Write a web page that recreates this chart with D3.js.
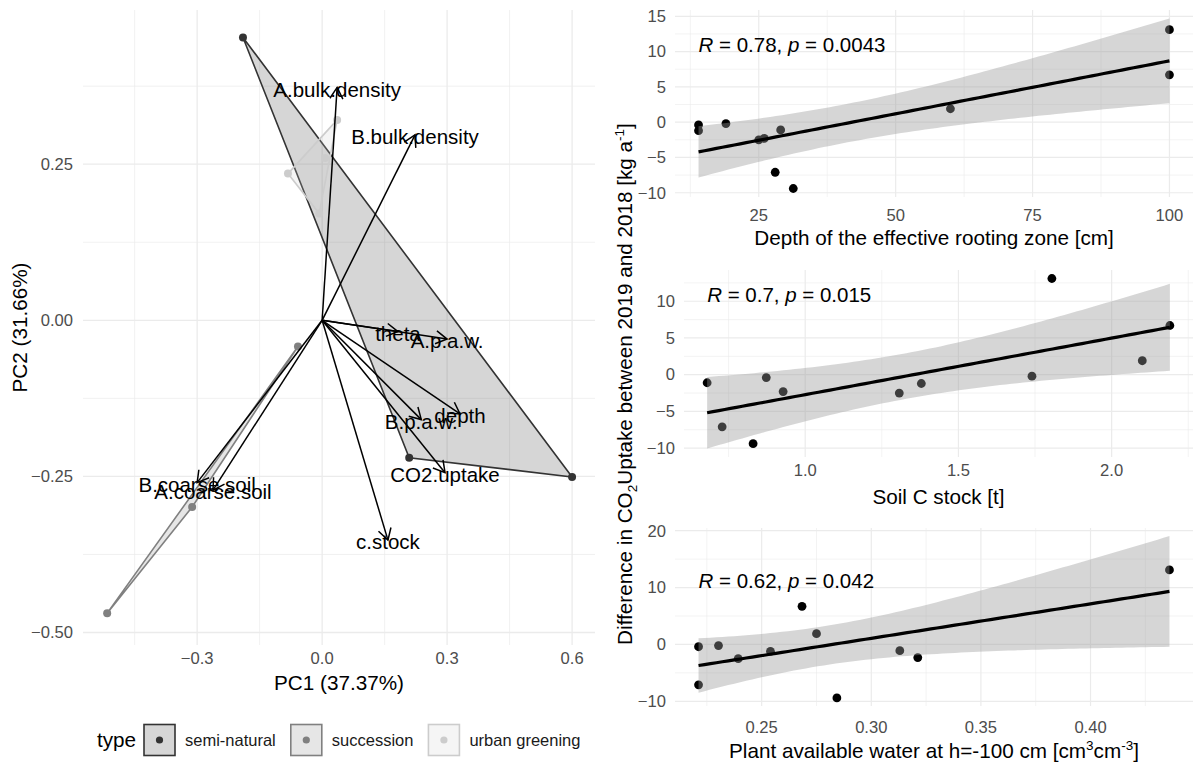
<!DOCTYPE html>
<html>
<head>
<meta charset="utf-8">
<script src="https://cdn.jsdelivr.net/npm/d3@7"></script>
<style>
  html, body { margin: 0; padding: 0; background: #fff; }
  svg { display: block; font-family: "Liberation Sans", Arial, sans-serif; }
</style>
</head>
<body>
<svg id="fig" width="1201" height="764"></svg>
<script>
// ---------- PCA biplot: sample scores ----------
const groups = ["semi-natural", "succession", "urban greening"];
const groupColors = ["#333333", "#808080", "#cccccc"];
const sampleGroup = ["semi-natural", "semi-natural", "semi-natural",
                     "succession", "succession", "succession",
                     "urban greening", "urban greening", "urban greening", "urban greening"];
const samplePC1 = [-0.190, 0.600, 0.209, -0.516, -0.312, -0.058, 0.036, 0.007, -0.082, -0.007];
const samplePC2 = [0.453, -0.251, -0.220, -0.469, -0.299, -0.042, 0.321, 0.260, 0.235, 0.171];

// ---------- PCA biplot: variable loadings ----------
const loadingNames = ["A.bulk.density", "B.bulk.density", "theta", "A.p.a.w.", "depth",
                      "B.p.a.w.", "CO2.uptake", "c.stock", "B.coarse.soil", "A.coarse.soil"];
const loadingPC1 = [0.036, 0.223, 0.182, 0.300, 0.331, 0.238, 0.295, 0.158, -0.300, -0.262];
const loadingPC2 = [0.373, 0.297, -0.018, -0.030, -0.150, -0.159, -0.244, -0.352, -0.260, -0.272];

const pc1Ticks = [-0.3, 0.0, 0.3, 0.6];
const pc2Ticks = [-0.5, -0.25, 0.0, 0.25];

// ---------- regression panels: one value per site ----------
const co2Diff   = [13.1, 6.7, 1.9, -0.2, -0.4, -1.1, -1.2, -2.3, -2.5, -7.1, -9.4];
const rootDepth = [100, 100, 60, 19, 14, 29, 14, 26, 25, 28, 31.3];
const soilC     = [1.805, 2.19, 2.10, 1.74, 0.873, 0.68, 1.379, 0.928, 1.307, 0.729, 0.83];
const pawValues = [0.436, 0.2684, 0.275, 0.2303, 0.2212, 0.313, 0.254, 0.3212, 0.2393, 0.2212, 0.2843];

const corR = ["0.78", "0.7", "0.62"];
const corP = ["0.0043", "0.015", "0.042"];

const depthTicks = [25, 50, 75, 100];
const soilCTicks = [1.0, 1.5, 2.0];
const pawTicks = [0.25, 0.30, 0.35, 0.40];
const diffTicks1 = [-10, -5, 0, 5, 10, 15];
const diffTicks2 = [-10, -5, 0, 5, 10];
const diffTicks3 = [-10, 0, 10, 20];

const svg = d3.select("#fig");
const GRID = "#ebebeb";
const TICK_COL = "#4d4d4d";
const TITLE_SIZE = 20.7, TICK_SIZE = 16.6;

// minor gridline positions: midpoints between majors, extended one step each side
function minorBreaks(ticks, domain) {
  const step = ticks[1] - ticks[0];
  const out = [];
  for (let v = ticks[0] - step / 2; v <= ticks[ticks.length - 1] + step / 2 + 1e-9; v += step) {
    if (v >= Math.min(...domain) && v <= Math.max(...domain)) out.push(v);
  }
  return out;
}

function drawGrid(g, xs, ys, xTicks, yTicks, box, majorW, minorW) {
  const xMinor = minorBreaks(xTicks, xs.domain());
  const yMinor = minorBreaks(yTicks, ys.domain());
  g.selectAll(null).data(xMinor).join("line")
    .attr("x1", d => xs(d)).attr("x2", d => xs(d)).attr("y1", box.top).attr("y2", box.bottom)
    .attr("stroke", GRID).attr("stroke-width", minorW);
  g.selectAll(null).data(yMinor).join("line")
    .attr("y1", d => ys(d)).attr("y2", d => ys(d)).attr("x1", box.left).attr("x2", box.right)
    .attr("stroke", GRID).attr("stroke-width", minorW);
  g.selectAll(null).data(xTicks).join("line")
    .attr("x1", d => xs(d)).attr("x2", d => xs(d)).attr("y1", box.top).attr("y2", box.bottom)
    .attr("stroke", GRID).attr("stroke-width", majorW);
  g.selectAll(null).data(yTicks).join("line")
    .attr("y1", d => ys(d)).attr("y2", d => ys(d)).attr("x1", box.left).attr("x2", box.right)
    .attr("stroke", GRID).attr("stroke-width", majorW);
}

// ================= PCA biplot =================
const bp = { left: 83, right: 595, top: 10, bottom: 645 };
const xPC = d3.scaleLinear().domain([-0.574, 0.655]).range([bp.left, bp.right]);
const yPC = d3.scaleLinear().domain([-0.52, 0.497]).range([bp.bottom, bp.top]);
const gB = svg.append("g");
drawGrid(gB, xPC, yPC, pc1Ticks, pc2Ticks, bp, 1.3, 0.7);

// axis tick labels
gB.selectAll(null).data(pc1Ticks).join("text")
  .attr("x", d => xPC(d)).attr("y", bp.bottom + 19)
  .attr("text-anchor", "middle").attr("font-size", TICK_SIZE).attr("fill", TICK_COL)
  .text(d => d3.format(".1f")(d));
gB.selectAll(null).data(pc2Ticks).join("text")
  .attr("x", bp.left - 10).attr("y", d => yPC(d)).attr("dy", "0.35em")
  .attr("text-anchor", "end").attr("font-size", TICK_SIZE).attr("fill", TICK_COL)
  .text(d => d3.format(".2f")(d));
gB.append("text").attr("x", (bp.left + bp.right) / 2).attr("y", 690)
  .attr("text-anchor", "middle").attr("font-size", TITLE_SIZE).text("PC1 (37.37%)");
gB.append("text").attr("transform", `translate(27,${(bp.top + bp.bottom) / 2}) rotate(-90)`)
  .attr("text-anchor", "middle").attr("font-size", TITLE_SIZE).text("PC2 (31.66%)");

const samples = samplePC1.map((x, i) => ({ x, y: samplePC2[i], g: sampleGroup[i] }));
const colorOf = d3.scaleOrdinal().domain(groups).range(groupColors);

// convex hull per group
groups.forEach(grp => {
  const pts = samples.filter(s => s.g === grp).map(s => [xPC(s.x), yPC(s.y)]);
  const hull = d3.polygonHull(pts);
  gB.append("path")
    .attr("d", "M" + hull.join("L") + "Z")
    .attr("fill", colorOf(grp)).attr("fill-opacity", 0.2)
    .attr("stroke", colorOf(grp)).attr("stroke-width", 1.6);
});

gB.selectAll(null).data(samples).join("circle")
  .attr("cx", d => xPC(d.x)).attr("cy", d => yPC(d.y)).attr("r", 4)
  .attr("fill", d => colorOf(d.g));

// loading arrows with open heads
const loadings = loadingNames.map((n, i) => ({ n, x: loadingPC1[i], y: loadingPC2[i] }));
const ox = xPC(0), oy = yPC(0);
loadings.forEach(d => {
  const tx = xPC(d.x), ty = yPC(d.y);
  const ang = Math.atan2(ty - oy, tx - ox);
  const L = 13, spread = Math.PI / 6;
  gB.append("line").attr("x1", ox).attr("y1", oy).attr("x2", tx).attr("y2", ty)
    .attr("stroke", "#000").attr("stroke-width", 1.5);
  gB.append("path")
    .attr("d", `M${tx - L * Math.cos(ang - spread)},${ty - L * Math.sin(ang - spread)}L${tx},${ty}L${tx - L * Math.cos(ang + spread)},${ty - L * Math.sin(ang + spread)}`)
    .attr("fill", "none").attr("stroke", "#000").attr("stroke-width", 1.5);
});
gB.selectAll(null).data(loadings).join("text")
  .attr("x", d => xPC(d.x)).attr("y", d => yPC(d.y)).attr("dy", "0.45em")
  .attr("text-anchor", "middle").attr("font-size", 20.5).attr("fill", "#000")
  .text(d => d.n);

// legend
const legY = 740;
const leg = svg.append("g");
leg.append("text").attr("x", 97).attr("y", legY).attr("dy", "0.35em")
  .attr("font-size", TITLE_SIZE).text("type");
let lx = 144;
groups.forEach(grp => {
  leg.append("rect").attr("x", lx).attr("y", legY - 15.5).attr("width", 31).attr("height", 31)
    .attr("fill", colorOf(grp)).attr("fill-opacity", 0.2)
    .attr("stroke", colorOf(grp)).attr("stroke-width", 1.6);
  leg.append("circle").attr("cx", lx + 15.5).attr("cy", legY).attr("r", 3.6).attr("fill", colorOf(grp));
  const t = leg.append("text").attr("x", lx + 41).attr("y", legY).attr("dy", "0.35em")
    .attr("font-size", 16.5).attr("fill", "#1a1a1a").text(grp);
  lx += 41 + t.node().getComputedTextLength() + 15;
});

// ================= regression panels =================
// ordinary least squares fit with 95% confidence band (t quantile for df = 9)
function lmBand(xs, ys) {
  const n = xs.length, mx = d3.mean(xs), my = d3.mean(ys);
  let sxx = 0, sxy = 0;
  xs.forEach((x, i) => { sxx += (x - mx) ** 2; sxy += (x - mx) * (ys[i] - my); });
  const b = sxy / sxx, a = my - b * mx;
  let sse = 0;
  xs.forEach((x, i) => { sse += (ys[i] - a - b * x) ** 2; });
  const s = Math.sqrt(sse / (n - 2));
  const tq = 2.262;
  const [x0, x1] = d3.extent(xs);
  return d3.range(80).map(i => {
    const x = x0 + (x1 - x0) * i / 79;
    const f = a + b * x;
    const se = s * Math.sqrt(1 / n + (x - mx) ** 2 / sxx);
    return { x, y: f, lo: f - tq * se, hi: f + tq * se };
  });
}

function expand(lo, hi) { const p = (hi - lo) * 0.05; return [lo - p, hi + p]; }

const panels = [
  { xs: rootDepth, xTicks: depthTicks, yTicks: diffTicks1, fmt: d3.format("d"),
    box: { left: 675, right: 1193, top: 10, bottom: 197 }, tickY: 221, titleY: 245,
    title: [["Depth of the effective rooting zone [cm]", null]] },
  { xs: soilC, xTicks: soilCTicks, yTicks: diffTicks2, fmt: d3.format(".1f"),
    box: { left: 684, right: 1193, top: 270, bottom: 457 }, tickY: 476, titleY: 504,
    title: [["Soil C stock [t]", null]] },
  { xs: pawValues, xTicks: pawTicks, yTicks: diffTicks3, fmt: d3.format(".2f"),
    box: { left: 675, right: 1193, top: 528, bottom: 706 }, tickY: 733, titleY: 758,
    title: [["Plant available water at h=-100 cm [cm", null], ["3", "sup"], ["cm", null], ["-3", "sup"], ["]", null]] }
];

panels.forEach((P, k) => {
  const band = lmBand(P.xs, co2Diff);
  const yLo = Math.min(d3.min(co2Diff), d3.min(band, d => d.lo));
  const yHi = Math.max(d3.max(co2Diff), d3.max(band, d => d.hi));
  const xS = d3.scaleLinear().domain(expand(...d3.extent(P.xs))).range([P.box.left, P.box.right]);
  const yS = d3.scaleLinear().domain(expand(yLo, yHi)).range([P.box.bottom, P.box.top]);
  const g = svg.append("g");
  drawGrid(g, xS, yS, P.xTicks, P.yTicks, P.box, 1.2, 0.6);

  g.selectAll(null).data(P.xTicks).join("text")
    .attr("x", d => xS(d)).attr("y", P.tickY)
    .attr("text-anchor", "middle").attr("font-size", TICK_SIZE).attr("fill", TICK_COL)
    .text(d => P.fmt(d));
  g.selectAll(null).data(P.yTicks).join("text")
    .attr("x", P.box.left - 9).attr("y", d => yS(d)).attr("dy", "0.35em")
    .attr("text-anchor", "end").attr("font-size", TICK_SIZE).attr("fill", TICK_COL)
    .text(d => d3.format("d")(d));

  const tt = g.append("text").attr("x", (P.box.left + P.box.right) / 2).attr("y", P.titleY)
    .attr("text-anchor", "middle").attr("font-size", TITLE_SIZE);
  P.title.forEach(([s, kind]) => {
    if (kind === "sup") tt.append("tspan").attr("dy", -8).attr("font-size", 13.5).text(s);
    else {
      const ts = tt.append("tspan").text(s);
      if (tt.selectAll("tspan").size() > 1) ts.attr("dy", 8);
    }
  });

  // points first; the translucent band is layered above them
  g.selectAll(null).data(P.xs.map((x, i) => [x, co2Diff[i]])).join("circle")
    .attr("cx", d => xS(d[0])).attr("cy", d => yS(d[1])).attr("r", 4.4).attr("fill", "#000");

  g.append("path").datum(band)
    .attr("d", d3.area().x(d => xS(d.x)).y0(d => yS(d.lo)).y1(d => yS(d.hi)))
    .attr("fill", "#999999").attr("fill-opacity", 0.4);
  g.append("path").datum(band)
    .attr("d", d3.line().x(d => xS(d.x)).y(d => yS(d.y)))
    .attr("fill", "none").attr("stroke", "#000").attr("stroke-width", 3.2);

  const ann = g.append("text").attr("x", xS(d3.min(P.xs))).attr("y", yS(9.9))
    .attr("font-size", 20.5).attr("fill", "#000");
  ann.append("tspan").attr("font-style", "italic").text("R");
  ann.append("tspan").text(` = ${corR[k]}, `);
  ann.append("tspan").attr("font-style", "italic").text("p");
  ann.append("tspan").text(` = ${corP[k]}`);
});

// shared y-axis title for the right column
const yt = svg.append("text").attr("transform", "translate(632,384) rotate(-90)")
  .attr("text-anchor", "middle").attr("font-size", TITLE_SIZE);
yt.append("tspan").text("Difference in CO");
yt.append("tspan").attr("dy", 5).attr("font-size", 13.5).text("2");
yt.append("tspan").attr("dy", -5).text("Uptake between 2019 and 2018 [kg a");
yt.append("tspan").attr("dy", -8).attr("font-size", 13.5).text("-1");
yt.append("tspan").attr("dy", 8).text("]");
</script>
</body>
</html>
